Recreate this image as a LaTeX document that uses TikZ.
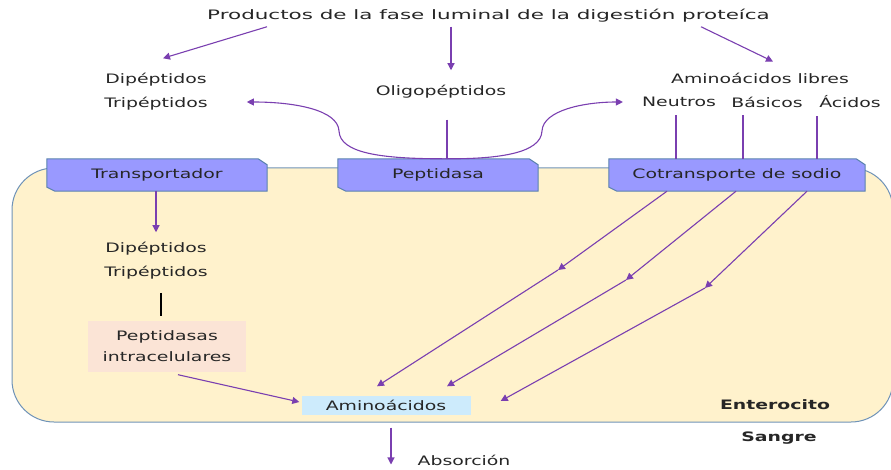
\documentclass[tikz,border=0pt]{standalone}
\usepackage{fontspec}
\setmainfont[FakeStretch=1.45]{DejaVu Sans}
\newfontfamily\titlefont[FakeStretch=1.65]{DejaVu Sans}
\usetikzlibrary{arrows.meta,backgrounds}
\definecolor{flowc}{HTML}{7A3FB0}
\definecolor{cellfill}{HTML}{FFF2CC}
\definecolor{cellline}{HTML}{6F93B8}
\definecolor{memfill}{HTML}{9999FF}
\definecolor{memline}{HTML}{5B83AE}
\definecolor{peachfill}{HTML}{FBE4D6}
\definecolor{bluefill}{HTML}{CDEBFC}
\tikzset{
  lbl/.style={font=\fontsize{13}{15}\selectfont, inner sep=1pt, text=black!85},
  twolines/.style={lbl, align=center, font=\fontsize{13}{#1}\selectfont},
  flow/.style={draw=flowc, line width=1.1pt, -{Triangle[length=7pt,width=7pt]}},
  stem/.style={draw=flowc, line width=1.1pt},
  membox/.style={lbl, minimum height=32pt},
}
\begin{document}
\begin{tikzpicture}[x=1pt,y=-1pt]
            \useasboundingbox (0,0) rectangle (891,470);
            \node[lbl, font=\fontsize{13}{15}\titlefont] (title) at (488.5,16) {Productos de la fase luminal de la digestión proteíca};
            \node[twolines=24] (dip1) at (156,92) {Dipéptidos\\Tripéptidos};
            \node[lbl] (oligo) at (441,92) {Oligopéptidos};
            \node[lbl] (libres) at (760,78) {Aminoácidos libres};
            \node[lbl] (neu) at (679,102) {Neutros};
            \node[lbl] (bas) at (767,102) {Básicos};
            \node[lbl] (aci) at (850,102) {Ácidos};
            \node[membox, minimum width=220pt] (trans) at (157,175) {Transportador};
            \node[membox, minimum width=200pt] (pep) at (438,175) {Peptidasa};
            \node[membox, minimum width=256pt] (cot) at (737,175) {Cotransporte de sodio};
            \node[twolines=24] (dip2) at (156,261) {Dipéptidos\\Tripéptidos};
            \node[twolines=21, fill=peachfill, minimum width=158pt, minimum height=51pt] (pint) at (167,346) {Peptidasas\\intracelulares};
            \node[lbl, fill=bluefill, minimum width=169pt, minimum height=19pt] (amino) at (386,405) {Aminoácidos};
            \node[lbl, font=\fontsize{13}{15}\selectfont\bfseries] (ent) at (775,405) {Enterocito};
            \node[lbl, font=\fontsize{13}{15}\selectfont\bfseries] (sangre) at (779,438) {Sangre};
            \node[lbl] (abs) at (464,460) {Absorción};
            \begin{scope}[on background layer]
                \draw[fill=cellfill, draw=cellline, line width=1pt, rounded corners=42pt] (12,168) rectangle (893,422);
                \foreach \n in {trans,pep,cot}
                    \filldraw[fill=memfill, draw=memline, line width=1pt] ([yshift=4pt]\n.south west) -- (\n.north west) -- ([xshift=-9pt]\n.north east) -- ([yshift=-6pt]\n.north east) -- (\n.south east) -- ([xshift=8pt]\n.south west) -- cycle;
            \end{scope}
            \draw[flow] ([xshift=61pt,yshift=-3pt]title.south west) -- ([xshift=7pt,yshift=14pt]dip1.north);
            \draw[flow] ([xshift=-37.5pt,yshift=-3pt]title.south) -- ([xshift=10pt,yshift=14pt]oligo.north);
            \draw[flow] ([xshift=-70pt,yshift=-3pt]title.south east) -- ([xshift=13pt,yshift=10pt]libres.north);
            \draw[flow] ([xshift=9pt]pep.north) .. controls (380,159) and (340,153) .. (339,131) .. controls (338,110) and (295,102) .. ([xshift=38pt,yshift=-10pt]dip1.east);
            \draw[flow] ([xshift=9pt]pep.north) .. controls (500,159) and (541,153) .. (542,131) .. controls (543,110) and (585,102) .. ([xshift=-18pt]neu.west);
            \draw[stem] ([xshift=6pt,yshift=-20pt]oligo.south) -- ([xshift=9pt]pep.north);
            \draw[stem] ([xshift=-3pt,yshift=-7pt]neu.south) -- ([xshift=-3pt]neu.south |- cot.north);
            \draw[stem] ([xshift=-24pt,yshift=-7pt]bas.south) -- ([xshift=-24pt]bas.south |- cot.north);
            \draw[stem] ([xshift=-33pt,yshift=-7pt]aci.south) -- ([xshift=-33pt]aci.south |- cot.north);
            \draw[flow] ([xshift=-1pt]trans.south) -- ([yshift=9pt]dip2.north);
            \draw[line width=1.1pt] ([xshift=5pt,yshift=-12pt]dip2.south) -- ([xshift=-6pt,yshift=4pt]pint.north);
            \draw[flow] ([xshift=11pt,yshift=-3pt]pint.south) -- ([xshift=-2pt,yshift=3pt]amino.west);
            \coordinate (k1) at (558,270);
            \coordinate (k2) at (626,280);
            \coordinate (k3) at (705,288);
            \draw[flow] ([xshift=-70pt]cot.south) -- (k1);
            \draw[flow] (k1) -- ([xshift=-9pt,yshift=9pt]amino.north);
            \draw[flow] ([xshift=-1pt]cot.south) -- (k2);
            \draw[flow] (k2) -- ([xshift=61pt,yshift=9pt]amino.north);
            \draw[flow] ([xshift=70pt]cot.south) -- (k3);
            \draw[flow] (k3) -- ([xshift=30pt,yshift=4pt]amino.east);
            \draw[flow] ([xshift=5pt,yshift=-13pt]amino.south) -- ([xshift=5pt,yshift=2pt]amino.south |- abs.south);
        \end{tikzpicture}
\end{document}
